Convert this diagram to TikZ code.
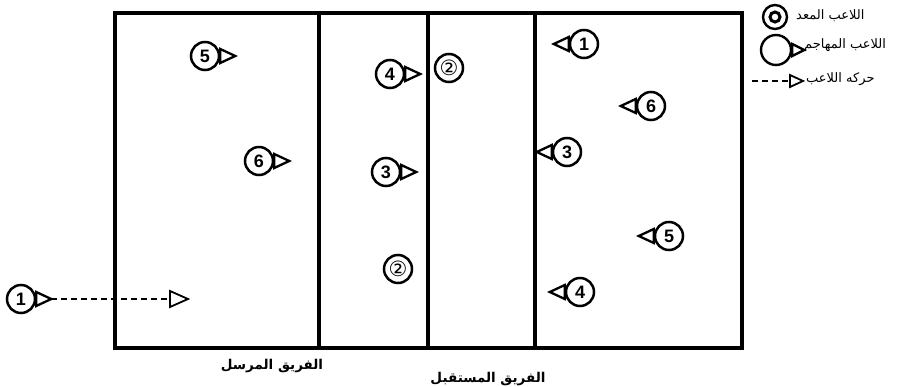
\documentclass[tikz,border=0pt]{standalone}
\usepackage{fontspec}
\setmainfont{Liberation Sans}
\TeXXeTstate=1
\newfontfamily\arabicfont[Script=Arabic]{DejaVu Sans}
\newfontfamily\symfont{DejaVu Sans}
\usetikzlibrary{calc}
\tikzset{
 court/.style={line width=3.1pt},
 player/.style={circle, draw, line width=2.5pt, minimum size=28pt, inner sep=0pt, fill=white, font=\bfseries\fontsize{18}{18}\selectfont},
 setter/.style={circle, draw, line width=2.5pt, minimum size=28pt, inner sep=0pt, fill=white, font=\symfont\fontsize{21}{21}\selectfont},
 tri/.style={draw, line width=2.3pt, fill=white, line join=miter},
 teamlabel/.style={font=\arabicfont\bfseries\fontsize{13.5}{13.5}\selectfont},
 legendtext/.style={font=\arabicfont\fontsize{13}{13}\selectfont, anchor=west, inner sep=0pt},
 move/.style={line width=1.8pt, dash pattern=on 6pt off 4pt},
}
\newcommand\facer[1]{\draw[tri] ($(#1.east)+(0,-7)$) -- ++(15,7) -- ++(-15,7) -- cycle;}
\newcommand\facel[1]{\draw[tri] ($(#1.west)+(0,-7)$) -- ++(-15,7) -- ++(15,7) -- cycle;}
\begin{document}
\begin{tikzpicture}[x=1pt,y=-1pt]
\useasboundingbox (0,0) rectangle (913,387);
% court
\draw[court] (115,13) rectangle (742,348);
\coordinate (t1) at (319,13); \coordinate (b1) at (319,348);
\coordinate (t2) at (428,13); \coordinate (b2) at (428,348);
\coordinate (t3) at (535,13); \coordinate (b3) at (535,348);
\draw[court] (t1) -- (b1);
\draw[court] (t2) -- (b2);
\draw[court] (t3) -- (b3);
% serving team
\node[player] (L5) at (205,56) {5}; \facer{L5}
\node[player] (L6) at (259,161) {6}; \facer{L6}
\node[player] (L4) at (390,74) {4}; \facer{L4}
\node[player] (L3) at (386,172) {3}; \facer{L3}
\node[setter] (S1) at (449,68) {②};
\node[setter] (S2) at (398,269) {②};
\node[player] (L1) at (21,299) {1}; \facer{L1}
\coordinate (L1t) at ($(L1.east)+(15,0)$);
\coordinate (m1) at (170,299);
\draw[move] (L1t) -- (m1);
\draw[tri, line width=1.8pt] ($(m1)+(0,-8)$) -- ++(18,8) -- ++(-18,8) -- cycle;
% receiving team
\node[player] (R1) at (584,44) {1}; \facel{R1}
\node[player] (R6) at (651,106) {6}; \facel{R6}
\node[player] (R3) at (567,152) {3}; \facel{R3}
\node[player] (R5) at (669,236) {5}; \facel{R5}
\node[player] (R4) at (580,292) {4}; \facel{R4}
% team labels
\node[teamlabel] (lab1) at (272,366) {\beginR الفريق المرسل\endR};
\node[teamlabel] (lab2) at (488,379) {\beginR الفريق المستقبل\endR};
% legend
\node[circle, draw, line width=2.4pt, minimum size=24pt, inner sep=0pt] (g1) at (775,17) {};
\node[circle, draw, line width=3pt, minimum size=10pt, inner sep=0pt] (g1i) at (g1) {};
\node[legendtext] (g1t) at (796,16) {\beginR اللاعب المعد\endR};
\node[circle, draw, line width=2.4pt, minimum size=30pt, inner sep=0pt] (g2) at (776,50) {};
\draw[tri] ($(g2.east)+(0,-6)$) -- ++(12,6) -- ++(-12,6) -- cycle;
\node[legendtext] (g2t) at (804,45) {\beginR اللاعب المهاجم\endR};
\coordinate (g3a) at (752,81); \coordinate (g3b) at (790,81);
\draw[move] (g3a) -- (g3b);
\draw[tri, line width=1.8pt] ($(g3b)+(0,-6)$) -- ++(13,6) -- ++(-13,6) -- cycle;
\node[legendtext] (g3t) at (806,79) {\beginR حركه اللاعب\endR};
\end{tikzpicture}
\end{document}
